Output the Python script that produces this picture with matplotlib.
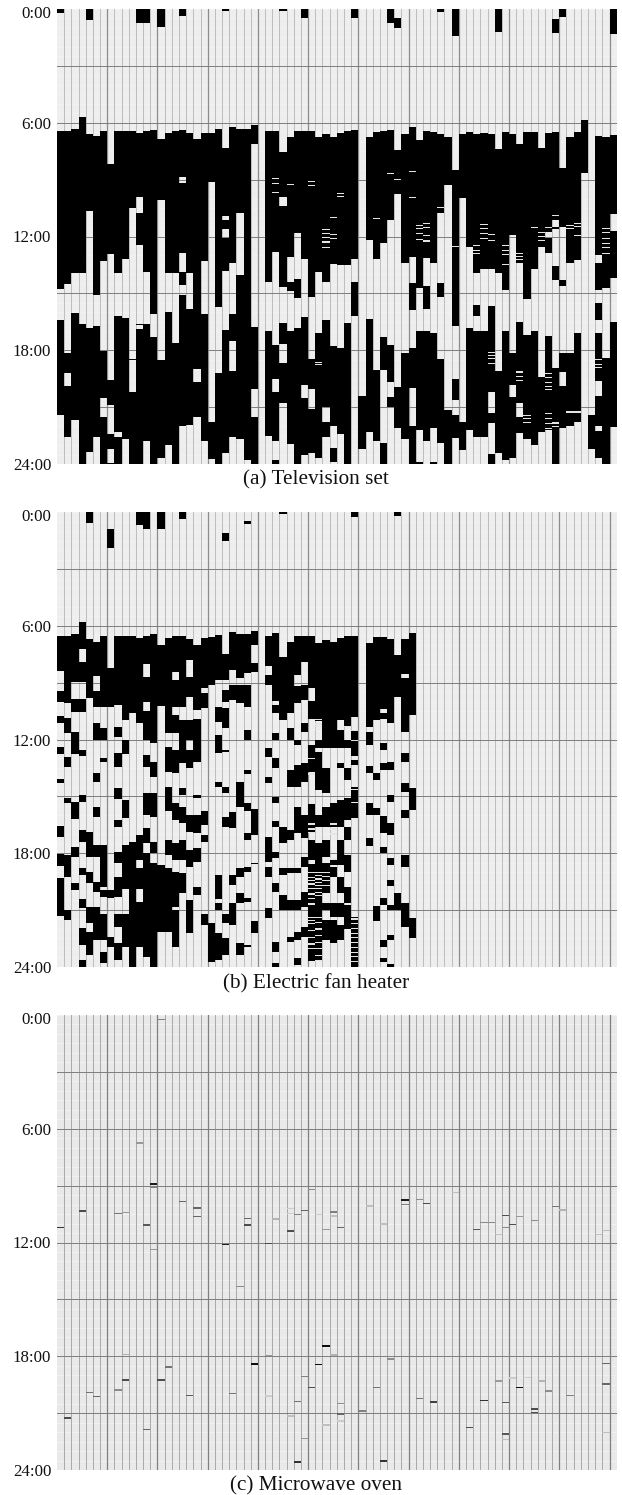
#!/usr/bin/env python
# Daily on/off time of three appliances, one column per day.
import matplotlib
matplotlib.use('Agg')
import matplotlib.pyplot as plt
from matplotlib.transforms import ScaledTranslation

plt.rcParams['font.family'] = ['Liberation Serif', 'DejaVu Serif']

days = 78
hour_labels = ['0:00', '6:00', '12:00', '18:00', '24:00']
hour_ticks = [0, 6, 12, 18, 24]

# on-periods in hours, one list per day
tv_on = [
    [(0, .2), (6.43, 14.76), (16.4, 21.4)],
    [(6.43, 14.5), (18.15, 19.2), (19.9, 22.6)],
    [(6.34, 13.9), (16.05, 21.67)],
    [(5.71, 13.9), (16.6, 24)],
    [(0, .6), (6.61, 10.65), (16.84, 23.35)],
    [(6.7, 15.1), (16.7, 22.55)],
    [(6.43, 13.3), (18.03, 20.5), (21.5, 24)],
    [(8.15, 12.9), (19.56, 20.9), (22.4, 23.2), (23.95, 24)],
    [(6.43, 13.9), (16.2, 22.3), (22.6, 24)],
    [(6.43, 13.2), (16.3, 22.7)],
    [(6.43, 10.5), (18.47, 18.52), (20.2, 24)],
    [(0, .75), (6.55, 9.9), (10.77, 12.44), (16.6, 16.68), (16.9, 24)],
    [(0, .75), (6.43, 13.85), (16.6, 22.78)],
    [(6.38, 16.1), (17.3, 24)],
    [(0, .95), (6.87, 10.1), (18.54, 23.7)],
    [(6.52, 13.9), (16, 23)],
    [(6.43, 13.9), (17.6, 24)],
    [(0, .35), (6.4, 8.84), (9.17, 12.85), (13.85, 14.55), (15.1, 22)],
    [(6.56, 13.9), (15.84, 21.93)],
    [(6.87, 19), (19.7, 21.5)],
    [(6.52, 13.3), (16.08, 22.8)],
    [(6.56, 9.1), (21.8, 23.75)],
    [(6.34, 15.7), (19.2, 24)],
    [(0, .08), (7.35, 10.9), (11.15, 11.6), (12.1, 13.8), (16.93, 23.43)],
    [(6.2, 13.4), (16.08, 17.5), (19.1, 22.6)],
    [(6.34, 10.74), (14.03, 22.7)],
    [(6.31, 23.8)],
    [(6.12, 7.1), (16.78, 20.05), (21.5, 24)],
    [],
    [(6.43, 14.38), (17, 22.5)],
    [(6.43, 12.83), (17.7, 19.5), (20.2, 22.8), (23.8, 24)],
    [(0, .1), (7.52, 9.9), (10.4, 14.64), (16.54, 17.66), (18.68, 20.8)],
    [(6.73, 13.06), (14.38, 14.9), (16.96, 22.94)],
    [(6.43, 11.83), (14.25, 15.25), (16.84, 24)],
    [(0, .46), (6.43, 13.18), (16.26, 19.82), (20.53, 23.5)],
    [(6.43, 15.2), (18.47, 20.05), (21.1, 23.4)],
    [(6.73, 13.85), (17.1, 23.7)],
    [(6.57, 14.38), (16.4, 21), (21.76, 22.55)],
    [(6.75, 13.45), (17.77, 22.02), (23.16, 23.87)],
    [(6.56, 13.5), (17.86, 22.43)],
    [(6.43, 13.5), (16.57, 24)],
    [(0, .5), (6.4, 13.2), (14.38, 16.2)],
    [(20.4, 23.2)],
    [(6.73, 12.18), (16.36, 22.3)],
    [(6.47, 13.2), (19.03, 22.8)],
    [(6.43, 12.35), (17.3, 19.03), (22.9, 24)],
    [(0, .75), (6.4, 11.12), (17.72, 19.65), (20.44, 20.97)],
    [(.5, 1.02), (7.43, 9.75), (19.95, 22.1)],
    [(6.59, 13.4), (18.15, 22.7)],
    [(6.24, 13.06), (14.47, 15.9), (17.9, 20), (22, 24)],
    [(6.9, 14.7), (17, 22.2), (23.87, 24)],
    [(6.43, 13.15), (14.6, 15.82), (17, 22.8)],
    [(6.5, 13.4), (17.07, 22.1), (23.87, 24)],
    [(0, .14), (6.59, 10.77), (14.43, 15.2), (18.47, 22.9)],
    [(6.73, 9.28), (21.14, 24)],
    [(0, 1.42), (8.49, 16.7), (19.5, 20.6), (21.4, 22.65)],
    [(6.59, 9.98), (21.76, 23.25)],
    [(6.49, 12.53), (16.84, 22.2)],
    [(6.59, 13.9), (15.6, 16.2), (17, 22.6)],
    [(6.56, 13.7), (17, 22.6)],
    [(6.59, 13.7), (15.65, 20.2), (21.3, 21.85), (23.45, 24)],
    [(0, 1.23), (7.38, 13.94), (19.12, 23.43)],
    [(6.5, 14.8), (17, 23.8)],
    [(6.59, 11.9), (18.15, 19.82), (20.48, 23.7)],
    [(7.1, 13.4), (16.5, 20.8), (21.5, 22.37)],
    [(6.47, 15.3), (17.2, 22.7)],
    [(6.47, 13.7), (17, 23)],
    [(7.34, 12.57), (19.4, 22.3)],
    [(6.52, 11.75), (12.1, 12.88), (17.24, 22.2)],
    [(.53, 1.28), (6.49, 11.12), (11.5, 11.6), (13.55, 14.3), (18.95, 24)],
    [(0, .4), (8.4, 11.5), (14.3, 14.6), (18.15, 19.16), (19.86, 22.1)],
    [(6.73, 13.4), (18.15, 22)],
    [(6.47, 13.25), (17.07, 21.76)],
    [(5.85, 8.66)],
    [(21.4, 23.2)],
    [(6.7, 12.97), (13.4, 14.8), (15.5, 16.4), (17.1, 19.6), (20.4, 22), (22.25, 23.7)],
    [(6.73, 14.73), (18.42, 24)],
    [(0, 1.34), (6.64, 10.83), (11.7, 14.2), (16.5, 22.03)],
]

# very short gaps inside the on-periods (day, hour)
tv_gaps = [
    (30, 8.93), (30, 9.16), (30, 9.63), (32, 9.23), (35, 9.05), (35, 9.26), (39, 9.68), (39, 9.86),
    (37, 11.6), (37, 11.8), (37, 12), (37, 12.26), (37, 12.53), (38, 10.95), (38, 11.88), (38, 12.09),
    (46, 8.63), (47, 8.96), (49, 8.54), (49, 9.9), (44, 11), (53, 10.46), (55, 12.5),
    (50, 11.39), (50, 11.56), (50, 11.83), (50, 12.14), (51, 11.3), (51, 11.51), (51, 11.92), (51, 12.21),
    (59, 11.34), (59, 11.56), (59, 11.79), (59, 12.06), (60, 11.88), (60, 12.18), (62, 12.44),
    (66, 11.48), (67, 11.74), (67, 11.97), (67, 12.18), (68, 11.48), (68, 11.85),
    (69, 10.86), (71, 11.39), (71, 11.56), (72, 11.27), (72, 11.44), (72, 11.92),
    (76, 11.56), (76, 11.74), (76, 12.06), (76, 12.36), (76, 12.53), (76, 12.88),
    (36, 18.6), (36, 18.72), (60, 18.07), (60, 18.24), (60, 18.42), (60, 18.65),
    (58, 12.44), (58, 12.71), (58, 12.88), (62, 12.71), (62, 12.92), (62, 13.45),
    (64, 12.85), (64, 13.02), (64, 13.2), (64, 19.12), (64, 19.35), (64, 19.56),
    (68, 19.21), (68, 19.42), (68, 19.65), (68, 19.86), (68, 20.04),
    (65, 21.4), (65, 21.58), (65, 21.76), (68, 21.32), (68, 21.58), (68, 21.85), (68, 22.11),
    (69, 21.81), (69, 21.99), (71, 21.23), (72, 21.23), (75, 18.47), (75, 18.72), (75, 18.86),
]

heater_on = [
    [(6.53, 8.36), (9.42, 10), (10.74, 11.14), (12.38, 12.77), (14.09, 14.32), (16.57, 17.14), (18.05, 18.68), (19.34, 21.3)],
    [(6.53, 10.09), (10.88, 11.67), (12.91, 13.44), (15.1, 15.37), (18.1, 19.25), (21, 21.54)],
    [(6.45, 8.94), (9.88, 10.53), (11.58, 12.77), (15.29, 16.2), (17.66, 18.2), (19.6, 19.95)],
    [(5.81, 7.22), (7.89, 8.94), (9.88, 10.53), (12.56, 12.87), (14.93, 15.29), (16.78, 17.4), (18.81, 19.16), (20.4, 20.92), (21.98, 22.86), (23.65, 24)],
    [(0, .55), (6.71, 9.82), (16.87, 18.2), (18.98, 19.6), (20.83, 21.7), (22.15, 23.39)],
    [(6.83, 8.63), (9.44, 10.26), (11.14, 12.03), (13.79, 14.23), (15.55, 16.11), (17.58, 18.2), (19.51, 20.04), (20.83, 22.59)],
    [(6.53, 10.26), (11.41, 12.03), (12.97, 13.21), (17.58, 19.78), (19.95, 20.3), (21.2, 22.6), (23.21, 23.83)],
    [(.9, 1.9), (8.24, 10.26), (19.95, 20.39), (22.42, 22.95)],
    [(6.53, 10.18), (11.32, 11.85), (12.73, 13.44), (14.58, 15.16), (16.26, 16.64), (17.93, 18.54), (19.25, 20.3), (21.2, 21.9), (22.77, 23.65)],
    [(6.53, 10.97), (12.03, 12.77), (15.2, 16.17), (17.58, 19.87), (21.2, 22.95)],
    [(6.53, 10.62), (17.4, 24)],
    [(0, .67), (6.65, 11.14), (17.05, 18.37), (18.81, 19.9), (20.57, 22.95)],
    [(0, .88), (6.53, 8), (8.68, 10), (10.48, 12.03), (12.82, 13.44), (14.85, 15.99), (16.7, 17.49), (18.02, 23.5)],
    [(6.45, 12.2), (13.17, 13.97), (14.85, 16.1), (17.4, 18.02), (18.54, 24)],
    [(0, .9), (7, 10.23), (18.63, 22.15)],
    [(6.62, 11.67), (12.38, 13.7), (14.5, 15.8), (17.3, 18.1), (18.8, 22.15)],
    [(6.53, 8.42), (8.86, 10.26), (10.7, 11.67), (12.56, 13.79), (15.37, 16.25), (17.49, 18.37), (18.98, 20.83), (21, 22.95)],
    [(0, .33), (6.52, 10.26), (10.97, 13.26), (14.58, 14.93), (15.55, 16.43), (17.31, 18.37), (19.07, 20.13)],
    [(6.7, 7.8), (8.72, 9.74), (10.97, 12.03), (12.56, 13.5), (16, 16.87), (17.84, 18.72), (20.5, 22.24)],
    [(7, 10.44), (10.9, 13.17), (14.93, 15.08), (16, 16.96), (17.75, 18.46), (19.78, 20.22)],
    [(6.65, 9.3), (9.57, 10.35), (15.8, 16.52), (17.05, 17.4), (21.2, 21.8)],
    [(6.57, 9.12), (21.71, 23.74)],
    [(6.48, 8.86), (10.26, 11.06), (11.76, 12.73), (14.23, 14.5), (19.16, 20.4), (20.66, 21), (22.24, 23.65)],
    [(1.07, 1.53), (7.48, 8.86), (9.4, 10), (10.35, 11.41), (12.56, 12.65), (14.5, 14.85), (16.08, 16.6), (21.2, 21.7), (22.5, 23.39)],
    [(6.34, 8.33), (9.11, 9.91), (15.82, 16.7), (19.16, 19.69), (20.66, 21.8)],
    [(6.42, 8.77), (9.12, 10.09), (14.23, 15.55), (18.81, 19.25), (20.13, 20.66), (22.77, 23.39)],
    [(.48, .62), (6.45, 8.5), (9.12, 10.26), (11.5, 12.03), (13.6, 13.84), (15.37, 15.8), (16.96, 17.31), (18.72, 18.98), (20.39, 20.57), (22.85, 22.95)],
    [(6.25, 7), (7.98, 8.42), (15.65, 17.05), (18.54, 18.6), (21.6, 22.24)],
    [],
    [(6.53, 8.12), (8.59, 9.12), (12.47, 12.91), (13.97, 14.32), (17.14, 18.46), (18.72, 19.25), (20.92, 21.45)],
    [(6.35, 9.95), (10.18, 10.62), (11.68, 12.03), (13, 13.53), (15.02, 15.37), (16.3, 16.64), (17.93, 18.28), (19.6, 20.04), (22.68, 23.21), (23.8, 24)],
    [(0, .09), (7.62, 10.97), (16.6, 17.49), (18.81, 19.16), (20.2, 21)],
    [(6.83, 10.62), (11.41, 12.03), (13.6, 14.5), (16.8, 17.31), (18.81, 19.07), (20.48, 21), (22.42, 22.68)],
    [(6.53, 8.59), (9.2, 10.09), (12.03, 12.3), (13.35, 14.5), (15.55, 16.96), (18.81, 19.07), (20.48, 21), (22.15, 22.6), (23.56, 23.9)],
    [(6.53, 7.89), (9.12, 9.9), (11.14, 11.58), (13.26, 14.23), (16, 17.22), (18.2, 18.72), (20.04, 20.83), (21.9, 22.42)],
    [(6.53, 9.3), (9.96, 10.9), (12.3, 13.7), (15.4, 16.9), (17.31, 18.37), (18.55, 23.7)],
    [(6.88, 11), (12.03, 12.47), (12.65, 14.67), (16, 16.61), (17.49, 23.7)],
    [(6.75, 12.47), (13.53, 14.85), (15.55, 16.61), (17.31, 18.2), (18.54, 20.13), (20.66, 21), (21.54, 22.6)],
    [(6.83, 12.47), (15.37, 16.61), (18.28, 18.63), (18.72, 19.25), (20.66, 21.36), (21.54, 22.77)],
    [(6.65, 10.97), (11.49, 12.47), (13.26, 13.53), (15.2, 16.61), (17.31, 18.63), (19.25, 20.13), (20.66, 21.36), (21.8, 22.6)],
    [(6.53, 11.32), (12.03, 12.47), (13.53, 14.14), (15.11, 16.26), (16.61, 17.31), (18.1, 18.98), (19.78, 20.66), (20.75, 22)],
    [(0, .23), (6.52, 10.8), (11.49, 12.88), (13.09, 13.35), (14.5, 15.29), (15.37, 16.17), (21.36, 24)],
    [],
    [(6.88, 11.32), (11.58, 12.3), (13.4, 13.79), (15.37, 16), (17.22, 17.63)],
    [(6.57, 10.97), (13.79, 14.14), (15.64, 16), (20.8, 21.6)],
    [(6.57, 10.4), (10.62, 10.9), (12.17, 12.56), (13.26, 13.6), (16.05, 16.96), (17.66, 18.02), (20.39, 20.75), (22.6, 22.98), (23.56, 23.74)],
    [(6.71, 11.14), (13.17, 13.6), (14.93, 15.29), (16.43, 17.05), (18.28, 18.63), (19.43, 19.74), (20.75, 21), (22.33, 22.6), (23.86, 24)],
    [(0, .18), (7.53, 9.74), (20.13, 21)],
    [(6.71, 8.55), (8.77, 11.58), (12.73, 13.17), (14.32, 14.76), (15.73, 16.17), (18.1, 18.72), (20.66, 21.9)],
    [(6.36, 10.7), (14.58, 15.73), (21.45, 22.5)],
]

heater_gaps = [
    (35, 12.99), (35, 13.79), (35, 16.43), (35, 16.7), (35, 16.87), (35, 18.98), (35, 19.25), (35, 19.42),
    (35, 19.6), (35, 19.86), (35, 20.13), (35, 20.39), (35, 20.66), (35, 21.36), (35, 21.54), (35, 21.71),
    (35, 22.06), (35, 22.42), (35, 22.77), (35, 23.03),
    (36, 10.9), (36, 11.15), (36, 11.3), (36, 11.45), (36, 18.98), (36, 19.16), (36, 19.34), (36, 19.51),
    (36, 19.69), (36, 19.86), (36, 20.04), (36, 20.22), (36, 21.36), (36, 21.62), (36, 21.98), (36, 22.33),
    (36, 22.68), (36, 23.03), (36, 23.39), (36, 23.65),
    (37, 19), (37, 19.2), (37, 19.4), (37, 19.7), (38, 16.43), (38, 16.7), (38, 16.96), (38, 18.28),
    (41, 12), (41, 14.6), (41, 21.45), (41, 21.7), (41, 21.95), (41, 22.2), (41, 22.45), (41, 22.7),
    (41, 22.95), (41, 23.2), (41, 23.45), (41, 23.7), (40, 11.3), (41, 11.5),
]

# microwave uses: day, hour, darkness of the mark
oven_day = [14, 11, 13, 13, 0, 3, 8, 9, 12, 13, 17, 19, 19, 23, 26, 26, 29, 30, 32, 32, 32, 33, 34, 35, 36,
            37, 38, 38, 39, 43, 45, 48, 48, 50, 51, 55, 58, 59, 60, 61, 62, 62, 63, 64, 66, 69, 70, 75, 76,
            25, 27, 29, 29, 9, 9, 8, 4, 5, 1, 12, 14, 15, 18, 24, 32, 33, 33, 34, 34, 35, 36,
            37, 37, 38, 39, 39, 39, 42, 44, 45, 46, 50, 52, 57, 59, 61, 62, 62, 62, 63, 64, 65, 66, 66,
            67, 68, 71, 76, 76, 76]
oven_hour = [.21, 6.7, 8.87, 9.05, 11.16, 10.3, 10.44, 10.37, 11.04, 12.32, 9.79, 10.14, 10.6, 12.07, 10.69, 11.04,
             12.02, 10.72, 10.16, 10.42, 11.35, 10.49, 10.28, 9.16, 10.49,
             11.27, 10.35, 10.56, 11.18, 10.04, 10.98, 9.72, 9.96, 9.7, 9.91, 9.33, 11.28, 10.9, 10.91, 11.55,
             10.53, 11.16, 11.02, 10.6, 10.79, 10.07, 10.25, 11.55, 11.32,
             14.27, 18.37, 17.91, 20.06, 17.86, 19.21, 19.74, 19.86, 20.09, 21.23, 21.83, 19.2, 18.53, 20.04, 19.93,
             21.11, 20.34, 23.54, 19.04, 22.29, 19.6, 18.4,
             17.42, 21.58, 17.89, 20.46, 21, 21.37, 20.85, 19.62, 23.48, 18.1, 20.2, 20.36, 21.71, 20.3, 19.27,
             20.41, 22.06, 22.34, 19.12, 19.62, 19.07, 20.74, 20.92, 19.27, 19.78, 20.04, 18.33, 19.42, 21.97]
oven_gray = [.5, .6, .1, .5, .2, .3, .45, .6, .35, .6, .4, .4, .4, .1, .4, .3,
             .3, .7, .8, .8, .3, .5, .4, .55, .8,
             .6, .5, .75, .4, .75, .75, .1, .5, .55, .3, .75, .35, .55, .55, .75,
             .3, .55, .3, .6, .55, .45, .7, .75, .75,
             .55, .05, .6, .8, .7, .3, .55, .45, .4, .3, .4, .3, .45, .35, .45,
             .75, .45, .2, .5, .6, .3, .05,
             .05, .75, .7, .55, .4, .8, .5, .45, .2, .55, .45, .25, .3, .2, .6,
             .35, .35, .75, .8, .05, .8, .3, .3, .7, .55, .5, .4, .4, .75]


def panel(rect, on=None, gaps=None, caption='', caption_y=0, bg='#eeeeee', thin='#bdbdbd', thick='#8c8c8c'):
    ax = fig.add_axes([rect[0]/622, 1 - rect[3]/1495, (rect[2]-rect[0])/622, (rect[3]-rect[1])/1495])
    ax.set_facecolor(bg)
    for h in range(48):
        ax.axhline(h/2, color='#f5f5f5', lw=0.5, zorder=1)
    for d in range(1, days):
        if d % 7 == 0:
            ax.axvline(d, color=thick, lw=0.9, zorder=1)
        else:
            ax.axvline(d, color=thin, lw=0.7, zorder=1)
    for h in range(3, 24, 3):
        ax.axhline(h, color='#7d7d7d', lw=0.7, zorder=1)
    if on is not None:
        for d, periods in enumerate(on):
            for start, end in periods:
                ax.bar(d + .5, end - start, bottom=start, width=1, color='black', lw=0, zorder=2)
        for d, h in gaps:
            ax.bar(d + .5, .06, bottom=h, width=1, color='#e4e4e4', lw=0, zorder=3)
    ax.set_xlim(0, days)
    ax.set_ylim(24, 0)
    ax.set_xticks([])
    ax.set_yticks(hour_ticks)
    ax.set_yticklabels(hour_labels, fontsize=12.2, color='#111111')
    ax.tick_params(axis='y', length=0, pad=4.2)
    # the top label sits a little under its line
    first = ax.get_yticklabels()[0]
    first.set_transform(first.get_transform() + ScaledTranslation(0, -3/100, fig.dpi_scale_trans))
    for s in ax.spines.values():
        s.set_visible(False)
    fig.text(316/622, 1 - caption_y/1495, caption, fontsize=15.3, ha='center', va='center', color='#111111')
    return ax


fig = plt.figure(figsize=(6.22, 14.95), dpi=100)

panel((57, 9, 616.7, 464), tv_on, tv_gaps, '(a) Television set', 480)
panel((57, 512.3, 616.7, 966.7), heater_on, heater_gaps, '(b) Electric fan heater', 983.5)
ax = panel((57, 1015, 616.7, 1470), None, None, '(c) Microwave oven', 1486,
           bg='#e9e9e9', thin='#a8a8a8', thick='#808080')
for d, h, g in zip(oven_day, oven_hour, oven_gray):
    ax.bar(d + .5, .08, bottom=h, width=1, color=str(g), lw=0, zorder=2)

fig.savefig('out.png', dpi=100)
